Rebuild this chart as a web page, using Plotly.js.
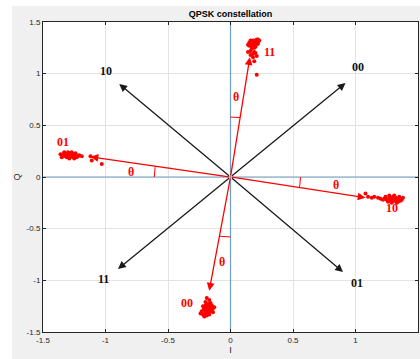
<!DOCTYPE html>
<html><head><meta charset="utf-8">
<script src="https://cdn.plot.ly/plotly-3.0.1.min.js"></script>
<style>html,body{margin:0;padding:0;background:#fff;}#chart{position:absolute;left:12px;top:6px;width:408px;height:353px;}</style>
</head><body><div id="chart"></div>
<script>
// Received symbol clusters
const I11 = [0.15,0.17,0.19,0.21,0.22,0.18,0.16,0.20,0.23,0.19,0.17,0.15,0.21,0.18,0.20,0.16,0.22,0.19,0.14,0.17,0.20,0.16,0.19,0.18,0.14,0.16,0.20,0.18,0.21,0.19,0.21,0.17,0.19,0.21,0.16,0.18,0.20,0.22,0.17];
const Q11 = [1.30,1.31,1.32,1.33,1.31,1.29,1.28,1.30,1.32,1.27,1.26,1.27,1.29,1.31,1.28,1.30,1.33,1.25,1.28,1.24,1.26,1.22,1.21,1.19,1.21,1.18,1.20,1.16,1.17,1.12,0.99,1.29,1.30,1.30,1.32,1.32,1.27,1.29,1.28];
const I01 = [-1.36,-1.34,-1.33,-1.32,-1.31,-1.30,-1.29,-1.28,-1.27,-1.26,-1.25,-1.24,-1.23,-1.22,-1.35,-1.31,-1.29,-1.27,-1.25,-1.30,-1.28,-1.26,-1.33,-1.24,-1.19,-1.12,-1.11,-1.03,-1.21,-1.32,-1.30,-1.28,-1.26,-1.34];
const Q01 = [0.22,0.21,0.23,0.20,0.22,0.24,0.21,0.23,0.20,0.22,0.21,0.23,0.19,0.20,0.19,0.19,0.18,0.24,0.18,0.21,0.20,0.19,0.24,0.22,0.20,0.20,0.16,0.125,0.21,0.22,0.22,0.21,0.21,0.20];
const I10 = [1.23,1.25,1.27,1.29,1.31,1.33,1.35,1.37,1.38,1.24,1.26,1.28,1.30,1.32,1.34,1.36,1.27,1.29,1.31,1.33,1.35,1.30,1.32,1.20,1.18,1.15,1.13,1.10,1.08,1.22,1.28,1.30,1.34,1.32,1.36];
const Q10 = [-0.21,-0.22,-0.20,-0.21,-0.23,-0.22,-0.21,-0.22,-0.20,-0.19,-0.24,-0.23,-0.19,-0.20,-0.24,-0.23,-0.18,-0.25,-0.18,-0.25,-0.19,-0.21,-0.22,-0.21,-0.20,-0.19,-0.20,-0.19,-0.16,-0.22,-0.21,-0.20,-0.21,-0.23,-0.21];
const I00 = [-0.22,-0.20,-0.18,-0.16,-0.14,-0.21,-0.19,-0.17,-0.15,-0.13,-0.23,-0.20,-0.18,-0.16,-0.14,-0.22,-0.19,-0.17,-0.15,-0.24,-0.21,-0.18,-0.16,-0.20,-0.17,-0.19,-0.15,-0.21,-0.18,-0.19,-0.17,-0.20,-0.16];
const Q00 = [-1.25,-1.24,-1.26,-1.25,-1.27,-1.28,-1.29,-1.27,-1.29,-1.26,-1.30,-1.31,-1.32,-1.30,-1.31,-1.33,-1.34,-1.33,-1.28,-1.32,-1.35,-1.23,-1.22,-1.21,-1.19,-1.17,-1.24,-1.27,-1.30,-1.28,-1.30,-1.32,-1.29];

// Ideal constellation arrows (black) and rotated arrows (red)
const idealLabels = ['00','10','11','01'];
const idealI = [0.92,-0.89,-0.90,0.90];
const idealQ = [0.91,0.90,-0.89,-0.92];
const idealLabelI = [1.02,-1.0,-1.02,1.01];
const idealLabelQ = [1.06,1.03,-0.99,-1.03];

const rotLabels = ['11','01','10','00'];
const rotI = [0.155,-1.12,1.08,-0.17];
const rotQ = [1.16,0.195,-0.20,-1.10];
const rotLabelI = [0.31,-1.34,1.29,-0.35];
const rotLabelQ = [1.21,0.34,-0.30,-1.22];

const thetaI = [0.04,-0.80,0.84,-0.07];
const thetaQ = [0.77,0.05,-0.08,-0.82];
const arcAxisDeg = [90,180,0,-90];
const arcRadius = [0.58,0.61,0.56,0.58];

const ticks = [-1.5,-1,-0.5,0,0.5,1,1.5];
const tickText = ['-1.5','-1','-0.5','0','0.5','1','1.5'];

const red = '#ff0000';
const serif = 'Liberation Serif, Times New Roman, serif';

const traces = [];
// axis zero lines
traces.push({x:[0,0],y:[-1.5,1.5],mode:'lines',line:{color:'#6f9cc0',width:1.2},hoverinfo:'skip',showlegend:false});
traces.push({x:[-1.5,1.5],y:[0,0],mode:'lines',line:{color:'#6f9cc0',width:1.2},hoverinfo:'skip',showlegend:false});
// clusters
[[I11,Q11],[I01,Q01],[I10,Q10],[I00,Q00]].forEach(([xs,ys])=>{
  traces.push({x:xs,y:ys,mode:'markers',marker:{color:red,size:4},showlegend:false,hoverinfo:'x+y'});
});
// angle arcs
for(let k=0;k<4;k++){
  const a0 = arcAxisDeg[k]*Math.PI/180;
  const a1 = Math.atan2(rotQ[k],rotI[k]);
  const xs=[],ys=[];
  const n=8;
  for(let j=0;j<=n;j++){
    const t=a0+(a1-a0)*j/n;
    xs.push(arcRadius[k]*Math.cos(t)); ys.push(arcRadius[k]*Math.sin(t));
  }
  traces.push({x:xs,y:ys,mode:'lines',line:{color:red,width:1},hoverinfo:'skip',showlegend:false});
}

const annotations = [];
for(let k=0;k<4;k++){
  annotations.push({x:idealI[k],y:idealQ[k],ax:0,ay:0,axref:'x',ayref:'y',xref:'x',yref:'y',text:'',showarrow:true,arrowhead:2,arrowsize:1.2,arrowwidth:1.3,arrowcolor:'#1a1a1a',standoff:0});
  annotations.push({x:idealLabelI[k],y:idealLabelQ[k],xref:'x',yref:'y',text:'<b>'+idealLabels[k]+'</b>',showarrow:false,font:{family:serif,size:12,color:'#111'}});
  annotations.push({x:rotI[k],y:rotQ[k],ax:0,ay:0,axref:'x',ayref:'y',xref:'x',yref:'y',text:'',showarrow:true,arrowhead:2,arrowsize:1.2,arrowwidth:1.3,arrowcolor:red,standoff:0});
  annotations.push({x:rotLabelI[k],y:rotLabelQ[k],xref:'x',yref:'y',text:'<b>'+rotLabels[k]+'</b>',showarrow:false,font:{family:serif,size:12,color:red}});
  annotations.push({x:thetaI[k],y:thetaQ[k],xref:'x',yref:'y',text:'<b>θ</b>',showarrow:false,font:{family:serif,size:12,color:red}});
}

const axisCommon = {
  range:[-1.5,1.5], tickvals:ticks, ticktext:tickText, showgrid:true, gridcolor:'#e3e3e3', gridwidth:1,
  zeroline:false, showline:true, linecolor:'#262626', linewidth:1, mirror:'ticks', ticks:'inside', ticklen:3, tickcolor:'#262626',
  tickfont:{family:'Liberation Sans, Arial, sans-serif',size:8,color:'#262626'}, fixedrange:true
};

const layout = {
  width:408, height:353,
  margin:{l:31,r:2,t:16,b:27},
  paper_bgcolor:'#f0f0f0', plot_bgcolor:'#ffffff',
  title:{text:'<b>QPSK constellation</b>', font:{family:'Liberation Sans, Arial, sans-serif',size:9,color:'#000'}, x:0.5, xref:'paper', y:1-8/353, yref:'container', yanchor:'middle'},
  xaxis:Object.assign({}, axisCommon, {title:{text:'I', font:{family:'Liberation Sans, Arial, sans-serif',size:9,color:'#262626'}, standoff:3}}),
  yaxis:Object.assign({}, axisCommon, {title:{text:'Q', font:{family:'Liberation Sans, Arial, sans-serif',size:9,color:'#262626'}, standoff:4}}),
  annotations:annotations,
  showlegend:false
};

Plotly.newPlot('chart', traces, layout, {displayModeBar:false, staticPlot:true});
</script></body></html>
